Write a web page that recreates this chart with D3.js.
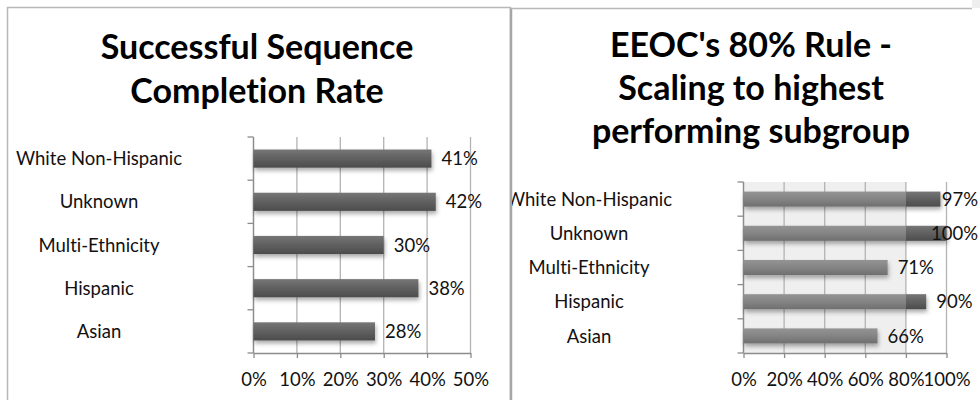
<!DOCTYPE html>
<html><head><meta charset="utf-8">
<script src="https://cdn.jsdelivr.net/npm/d3@7"></script>
<style>
html,body{margin:0;padding:0;background:#fff;}
svg{display:block;font-family:Lato,'Open Sans',sans-serif;font-variant-ligatures:none;font-feature-settings:"liga" 0,"clig" 0;}
text{font-variant-ligatures:none;}
</style></head><body>
<svg id="c" width="980" height="400"></svg>
<script>
// ---- data ----
const categories = ["White Non-Hispanic","Unknown","Multi-Ethnicity","Hispanic","Asian"];
const completionRates = [0.41,0.42,0.30,0.38,0.28];
const scaledRates = [0.97,1.00,0.71,0.90,0.66];
const leftTicks = [0,0.1,0.2,0.3,0.4,0.5];
const rightTicks = [0,0.2,0.4,0.6,0.8,1.0];
const leftTitle = ["Successful Sequence","Completion Rate"];
const rightTitle = ["EEOC's 80% Rule -","Scaling to highest","performing subgroup"];
const ruleThreshold = 0.8;

const svg = d3.select("#c");
const defs = svg.append("defs");
function grad(id, stops){
  const g = defs.append("linearGradient").attr("id",id).attr("x1",0).attr("y1",0).attr("x2",0).attr("y2",1);
  stops.forEach(s=>g.append("stop").attr("offset",s[0]).attr("stop-color",s[1]));
}
grad("gDark",[[0,"#767676"],[0.5,"#606060"],[1,"#4c4c4c"]]);
grad("gLight",[[0,"#949494"],[0.5,"#848484"],[1,"#6f6f6f"]]);
const f = defs.append("filter").attr("id","shadow").attr("x","-10%").attr("y","-30%").attr("width","130%").attr("height","180%");
f.append("feDropShadow").attr("dx",1).attr("dy",3).attr("stdDeviation",2).attr("flood-color","#000").attr("flood-opacity",0.33);
defs.append("clipPath").attr("id","clipR").append("rect").attr("x",512).attr("y",8).attr("width",470).attr("height",400);

// panel frames
svg.append("rect").attr("x",7.5).attr("y",7.5).attr("width",503).attr("height",420)
  .attr("fill","none").attr("stroke","#b8b8b8").attr("stroke-width",1.5);
svg.append("line").attr("x1",511).attr("x2",511).attr("y1",8).attr("y2",400).attr("stroke","#a6a6a6").attr("stroke-width",2.5);
svg.append("line").attr("x1",511).attr("x2",972).attr("y1",8.5).attr("y2",8.5).attr("stroke","#b8b8b8").attr("stroke-width",1.5);
svg.append("rect").attr("x",972).attr("y",0).attr("width",8).attr("height",8).attr("fill","#eeeeee");

const pct = d3.format(".0%");

function panel(o){
  const g = svg.append("g");
  if(o.clip) g.attr("clip-path","url(#"+o.clip+")");
  const x = d3.scaleLinear().domain([0,o.ticks[o.ticks.length-1]]).range(o.xRange);
  const y = d3.scaleBand().domain(categories).range(o.yRange).paddingInner(o.pad).paddingOuter(o.pad/2);
  const [top,bot] = o.yRange;
  if(o.shade){
    g.append("rect").attr("x",x(0)).attr("y",top).attr("width",x(o.shade)-x(0)).attr("height",bot-top).attr("fill","#efefef");
  }
  // grid
  g.append("g").selectAll("line").data(o.ticks).join("line")
    .attr("x1",d=>x(d)).attr("x2",d=>x(d)).attr("y1",top).attr("y2",bot)
    .attr("stroke","#b3b3b3").attr("stroke-width",1.3);
  // bottom axis
  const ax = g.append("g").attr("transform",`translate(0,${bot})`)
    .call(d3.axisBottom(x).tickValues(o.ticks).tickFormat(pct).tickSizeInner(5).tickSizeOuter(0).tickPadding(15));
  ax.select(".domain").attr("stroke","#8c8c8c").attr("stroke-width",1.3);
  ax.selectAll(".tick line").attr("stroke","#8c8c8c").attr("stroke-width",1.3);
  ax.selectAll(".tick text").attr("font-size",18.5).attr("fill","#111").attr("font-family","Lato,'Open Sans',sans-serif");
  // category axis with ticks at band boundaries
  g.append("line").attr("x1",x(0)).attr("x2",x(0)).attr("y1",top).attr("y2",bot).attr("stroke","#8c8c8c").attr("stroke-width",1.3);
  g.append("g").selectAll("line").data(d3.range(categories.length+1)).join("line")
    .attr("x1",x(0)-6).attr("x2",x(0)).attr("y1",i=>top+i*y.step()).attr("y2",i=>top+i*y.step())
    .attr("stroke","#8c8c8c").attr("stroke-width",1.3);
  // bars
  const data = categories.map((c,i)=>({c, v:o.values[i]}));
  const bars = g.append("g").attr("filter","url(#shadow)");
  if(o.shade){
    bars.selectAll("rect.lo").data(data).join("rect").attr("class","lo")
      .attr("x",x(0)).attr("y",d=>y(d.c)).attr("height",y.bandwidth())
      .attr("width",d=>x(Math.min(d.v,o.shade))-x(0)).attr("fill","url(#gLight)");
    bars.selectAll("rect.hi").data(data.filter(d=>d.v>o.shade)).join("rect").attr("class","hi")
      .attr("x",x(o.shade)).attr("y",d=>y(d.c)).attr("height",y.bandwidth())
      .attr("width",d=>x(d.v)-x(o.shade)).attr("fill","url(#gDark)");
  } else {
    bars.selectAll("rect").data(data).join("rect")
      .attr("x",x(0)).attr("y",d=>y(d.c)).attr("height",y.bandwidth())
      .attr("width",d=>x(d.v)-x(0)).attr("fill","url(#gDark)");
  }
  // category labels
  g.append("g").selectAll("text").data(categories).join("text")
    .attr("x",o.labelX).attr("y",d=>y(d)+y.bandwidth()/2).attr("dy","0.36em")
    .attr("text-anchor","middle").attr("font-size",18.5).attr("fill","#111").text(d=>d);
  // value labels
  g.append("g").selectAll("text").data(data).join("text")
    .attr("y",d=>y(d.c)+y.bandwidth()/2).attr("dy","0.36em")
    .attr("font-size",18.5).attr("fill","#111").text(d=>pct(d.v))
    .each(function(d){
      const w = this.getComputedTextLength();
      this.setAttribute("x", Math.min(x(d.v)+10, o.labelMax - w));
    });
  // title
  g.append("g").selectAll("text").data(o.title).join("text")
    .attr("x",o.titleX).attr("y",(d,i)=>o.titleY+i*o.titleDy)
    .attr("text-anchor","middle").attr("font-size",34).attr("font-weight","bold").attr("fill","#000").text(d=>d);
}

panel({values:completionRates, ticks:leftTicks, xRange:[253.5,470.5], yRange:[137,353], pad:0.58,
  labelX:99, labelMax:505, title:leftTitle, titleX:257, titleY:59, titleDy:43.5});
panel({values:scaledRates, ticks:rightTicks, xRange:[743.5,946.5], yRange:[182,353], pad:0.56,
  labelX:589, labelMax:978, title:rightTitle, titleX:751, titleY:57, titleDy:43, shade:ruleThreshold, clip:"clipR"});
</script>
</body></html>
